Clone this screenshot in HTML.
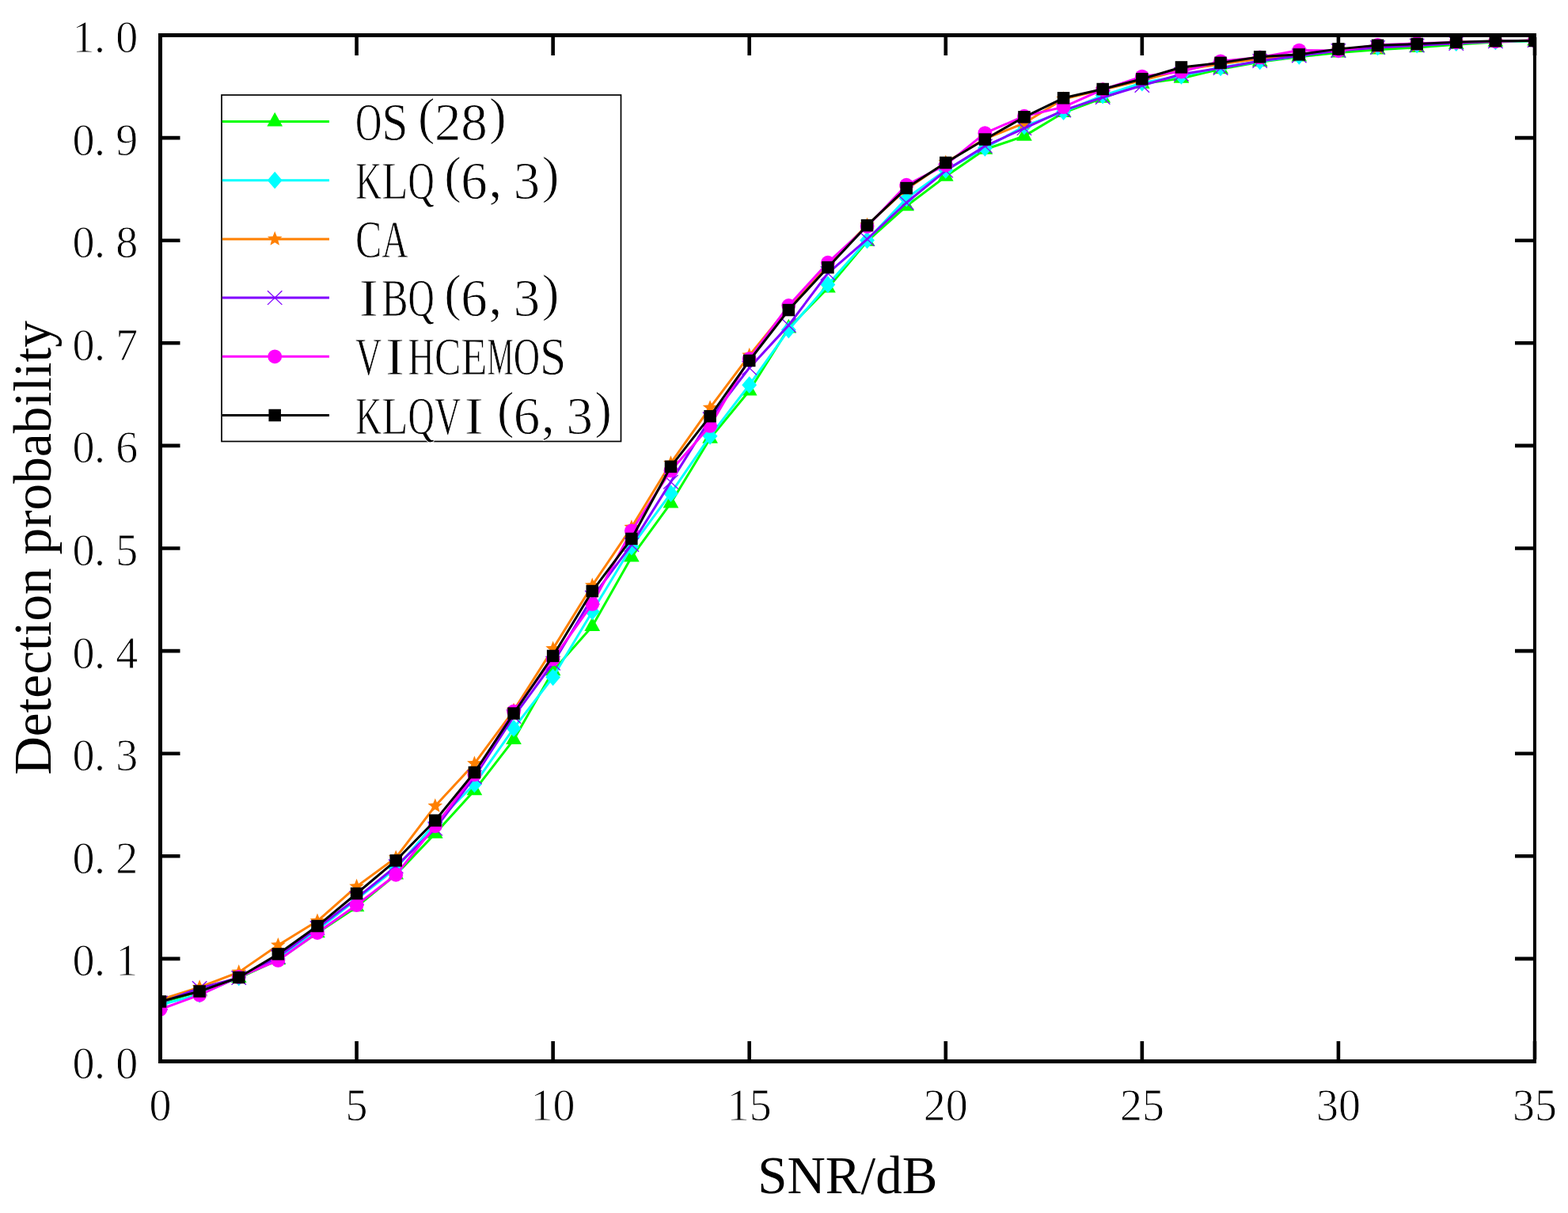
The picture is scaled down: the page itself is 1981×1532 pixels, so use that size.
<!DOCTYPE html><html><head><meta charset="utf-8"><title>Detection probability vs SNR</title><style>html,body{margin:0;padding:0;background:#fff;overflow:hidden}svg{display:block}text{font-family:"Liberation Serif","Times New Roman",serif;fill:#000;stroke:#fff;stroke-width:0.9px}</style></head><body>
<svg width="1981" height="1532" viewBox="0 0 1981 1532">
<rect width="1981" height="1532" fill="#fff"/>
<defs><clipPath id="pa"><rect x="205" y="47" width="1732" height="1291"/></clipPath></defs>
<g clip-path="url(#pa)">
<polyline points="202.50,1266.63 252.11,1252.37 301.73,1235.14 351.34,1212.46 400.96,1178.24 450.57,1145.45 500.19,1104.63 549.80,1052.79 599.41,998.36 649.03,934.20 698.64,847.37 748.26,791.00 797.87,703.52 847.49,635.48 897.10,553.83 946.71,493.56 996.33,414.51 1045.94,363.70 1095.56,304.74 1145.17,260.28 1194.79,222.83 1244.40,188.74 1294.01,171.90 1343.63,142.22 1393.24,123.94 1442.86,105.80 1492.47,98.93 1542.09,87.27 1591.70,78.20 1641.31,71.72 1690.93,66.53 1740.54,62.64 1790.16,60.05 1839.77,56.16 1889.39,52.92 1939.00,51.63" fill="none" stroke="#00ff00" stroke-width="3" stroke-linejoin="round"/>
<path d="M202.50 1254.83L212.35 1272.53L192.65 1272.53Z" fill="#00ff00"/><path d="M252.11 1240.57L261.96 1258.27L242.26 1258.27Z" fill="#00ff00"/><path d="M301.73 1223.34L311.58 1241.04L291.88 1241.04Z" fill="#00ff00"/><path d="M351.34 1200.66L361.19 1218.36L341.49 1218.36Z" fill="#00ff00"/><path d="M400.96 1166.44L410.81 1184.14L391.11 1184.14Z" fill="#00ff00"/><path d="M450.57 1133.65L460.42 1151.35L440.72 1151.35Z" fill="#00ff00"/><path d="M500.19 1092.83L510.04 1110.53L490.34 1110.53Z" fill="#00ff00"/><path d="M549.80 1040.99L559.65 1058.69L539.95 1058.69Z" fill="#00ff00"/><path d="M599.41 986.56L609.26 1004.26L589.56 1004.26Z" fill="#00ff00"/><path d="M649.03 922.40L658.88 940.10L639.18 940.10Z" fill="#00ff00"/><path d="M698.64 835.57L708.49 853.27L688.79 853.27Z" fill="#00ff00"/><path d="M748.26 779.20L758.11 796.90L738.41 796.90Z" fill="#00ff00"/><path d="M797.87 691.72L807.72 709.42L788.02 709.42Z" fill="#00ff00"/><path d="M847.49 623.68L857.34 641.38L837.64 641.38Z" fill="#00ff00"/><path d="M897.10 542.03L906.95 559.73L887.25 559.73Z" fill="#00ff00"/><path d="M946.71 481.76L956.56 499.46L936.86 499.46Z" fill="#00ff00"/><path d="M996.33 402.71L1006.18 420.41L986.48 420.41Z" fill="#00ff00"/><path d="M1045.94 351.90L1055.79 369.60L1036.09 369.60Z" fill="#00ff00"/><path d="M1095.56 292.94L1105.41 310.64L1085.71 310.64Z" fill="#00ff00"/><path d="M1145.17 248.48L1155.02 266.18L1135.32 266.18Z" fill="#00ff00"/><path d="M1194.79 211.03L1204.64 228.73L1184.94 228.73Z" fill="#00ff00"/><path d="M1244.40 176.94L1254.25 194.64L1234.55 194.64Z" fill="#00ff00"/><path d="M1294.01 160.10L1303.86 177.80L1284.16 177.80Z" fill="#00ff00"/><path d="M1343.63 130.42L1353.48 148.12L1333.78 148.12Z" fill="#00ff00"/><path d="M1393.24 112.14L1403.09 129.84L1383.39 129.84Z" fill="#00ff00"/><path d="M1442.86 94.00L1452.71 111.70L1433.01 111.70Z" fill="#00ff00"/><path d="M1492.47 87.13L1502.32 104.83L1482.62 104.83Z" fill="#00ff00"/><path d="M1542.09 75.47L1551.94 93.17L1532.24 93.17Z" fill="#00ff00"/><path d="M1591.70 66.40L1601.55 84.10L1581.85 84.10Z" fill="#00ff00"/><path d="M1641.31 59.92L1651.16 77.62L1631.46 77.62Z" fill="#00ff00"/><path d="M1690.93 54.73L1700.78 72.43L1681.08 72.43Z" fill="#00ff00"/><path d="M1740.54 50.84L1750.39 68.54L1730.69 68.54Z" fill="#00ff00"/><path d="M1790.16 48.25L1800.01 65.95L1780.31 65.95Z" fill="#00ff00"/><path d="M1839.77 44.36L1849.62 62.06L1829.92 62.06Z" fill="#00ff00"/><path d="M1889.39 41.12L1899.24 58.82L1879.54 58.82Z" fill="#00ff00"/><path d="M1939.00 39.83L1948.85 57.53L1929.15 57.53Z" fill="#00ff00"/>
<polyline points="202.50,1269.22 252.11,1256.00 301.73,1234.49 351.34,1210.90 400.96,1174.61 450.57,1135.73 500.19,1096.85 549.80,1039.83 599.41,990.45 649.03,919.95 698.64,855.28 748.26,772.46 797.87,690.56 847.49,623.16 897.10,550.85 946.71,486.18 996.33,416.58 1045.94,359.43 1095.56,303.44 1145.17,250.56 1194.79,214.92 1244.40,186.93 1294.01,159.46 1343.63,141.05 1393.24,120.58 1442.86,104.76 1492.47,95.82 1542.09,85.32 1591.70,77.42 1641.31,70.81 1690.93,62.64 1740.54,59.40 1790.16,56.55 1839.77,54.22 1889.39,52.28 1939.00,51.63" fill="none" stroke="#00ffff" stroke-width="3" stroke-linejoin="round"/>
<path d="M202.50 1258.37L211.90 1269.22L202.50 1280.07L193.10 1269.22Z" fill="#00ffff"/><path d="M252.11 1245.15L261.51 1256.00L252.11 1266.85L242.71 1256.00Z" fill="#00ffff"/><path d="M301.73 1223.64L311.13 1234.49L301.73 1245.34L292.33 1234.49Z" fill="#00ffff"/><path d="M351.34 1200.05L360.74 1210.90L351.34 1221.75L341.94 1210.90Z" fill="#00ffff"/><path d="M400.96 1163.76L410.36 1174.61L400.96 1185.46L391.56 1174.61Z" fill="#00ffff"/><path d="M450.57 1124.88L459.97 1135.73L450.57 1146.58L441.17 1135.73Z" fill="#00ffff"/><path d="M500.19 1086.00L509.59 1096.85L500.19 1107.70L490.79 1096.85Z" fill="#00ffff"/><path d="M549.80 1028.98L559.20 1039.83L549.80 1050.68L540.40 1039.83Z" fill="#00ffff"/><path d="M599.41 979.60L608.81 990.45L599.41 1001.30L590.01 990.45Z" fill="#00ffff"/><path d="M649.03 909.10L658.43 919.95L649.03 930.80L639.63 919.95Z" fill="#00ffff"/><path d="M698.64 844.43L708.04 855.28L698.64 866.13L689.24 855.28Z" fill="#00ffff"/><path d="M748.26 761.61L757.66 772.46L748.26 783.31L738.86 772.46Z" fill="#00ffff"/><path d="M797.87 679.71L807.27 690.56L797.87 701.41L788.47 690.56Z" fill="#00ffff"/><path d="M847.49 612.31L856.89 623.16L847.49 634.01L838.09 623.16Z" fill="#00ffff"/><path d="M897.10 540.00L906.50 550.85L897.10 561.70L887.70 550.85Z" fill="#00ffff"/><path d="M946.71 475.33L956.11 486.18L946.71 497.03L937.31 486.18Z" fill="#00ffff"/><path d="M996.33 405.73L1005.73 416.58L996.33 427.43L986.93 416.58Z" fill="#00ffff"/><path d="M1045.94 348.58L1055.34 359.43L1045.94 370.28L1036.54 359.43Z" fill="#00ffff"/><path d="M1095.56 292.59L1104.96 303.44L1095.56 314.29L1086.16 303.44Z" fill="#00ffff"/><path d="M1145.17 239.71L1154.57 250.56L1145.17 261.41L1135.77 250.56Z" fill="#00ffff"/><path d="M1194.79 204.07L1204.19 214.92L1194.79 225.77L1185.39 214.92Z" fill="#00ffff"/><path d="M1244.40 176.08L1253.80 186.93L1244.40 197.78L1235.00 186.93Z" fill="#00ffff"/><path d="M1294.01 148.61L1303.41 159.46L1294.01 170.31L1284.61 159.46Z" fill="#00ffff"/><path d="M1343.63 130.20L1353.03 141.05L1343.63 151.90L1334.23 141.05Z" fill="#00ffff"/><path d="M1393.24 109.73L1402.64 120.58L1393.24 131.43L1383.84 120.58Z" fill="#00ffff"/><path d="M1442.86 93.91L1452.26 104.76L1442.86 115.61L1433.46 104.76Z" fill="#00ffff"/><path d="M1492.47 84.97L1501.87 95.82L1492.47 106.67L1483.07 95.82Z" fill="#00ffff"/><path d="M1542.09 74.47L1551.49 85.32L1542.09 96.17L1532.69 85.32Z" fill="#00ffff"/><path d="M1591.70 66.57L1601.10 77.42L1591.70 88.27L1582.30 77.42Z" fill="#00ffff"/><path d="M1641.31 59.96L1650.71 70.81L1641.31 81.66L1631.91 70.81Z" fill="#00ffff"/><path d="M1690.93 51.79L1700.33 62.64L1690.93 73.49L1681.53 62.64Z" fill="#00ffff"/><path d="M1740.54 48.55L1749.94 59.40L1740.54 70.25L1731.14 59.40Z" fill="#00ffff"/><path d="M1790.16 45.70L1799.56 56.55L1790.16 67.40L1780.76 56.55Z" fill="#00ffff"/><path d="M1839.77 43.37L1849.17 54.22L1839.77 65.07L1830.37 54.22Z" fill="#00ffff"/><path d="M1889.39 41.43L1898.79 52.28L1889.39 63.13L1879.99 52.28Z" fill="#00ffff"/><path d="M1939.00 40.78L1948.40 51.63L1939.00 62.48L1929.60 51.63Z" fill="#00ffff"/>
<polyline points="202.50,1262.74 252.11,1246.93 301.73,1227.88 351.34,1193.79 400.96,1163.34 450.57,1119.66 500.19,1083.24 549.80,1017.93 599.41,964.40 649.03,897.27 698.64,819.38 748.26,739.42 797.87,666.06 847.49,584.93 897.10,514.95 946.71,448.85 996.33,387.94 1045.94,334.80 1095.56,284.26 1145.17,238.90 1194.79,205.20 1244.40,175.40 1294.01,155.57 1343.63,124.98 1393.24,113.19 1442.86,101.52 1492.47,88.56 1542.09,80.79 1591.70,74.31 1641.31,69.12 1690.93,62.64 1740.54,60.05 1790.16,57.46 1839.77,53.57 1889.39,52.28 1939.00,50.98" fill="none" stroke="#ff8000" stroke-width="3" stroke-linejoin="round"/>
<path d="M202.50 1252.94L205.03 1259.26L211.82 1259.71L206.59 1264.07L208.26 1270.67L202.50 1267.04L196.74 1270.67L198.41 1264.07L193.18 1259.71L199.97 1259.26Z" fill="#ff8000"/><path d="M252.11 1237.13L254.64 1243.45L261.43 1243.90L256.20 1248.26L257.87 1254.86L252.11 1251.23L246.35 1254.86L248.02 1248.26L242.79 1243.90L249.59 1243.45Z" fill="#ff8000"/><path d="M301.73 1218.08L304.26 1224.40L311.05 1224.85L305.82 1229.21L307.49 1235.81L301.73 1232.18L295.97 1235.81L297.64 1229.21L292.41 1224.85L299.20 1224.40Z" fill="#ff8000"/><path d="M351.34 1183.99L353.87 1190.31L360.66 1190.76L355.43 1195.12L357.10 1201.72L351.34 1198.09L345.58 1201.72L347.25 1195.12L342.02 1190.76L348.82 1190.31Z" fill="#ff8000"/><path d="M400.96 1153.54L403.48 1159.86L410.28 1160.31L405.05 1164.67L406.72 1171.27L400.96 1167.64L395.20 1171.27L396.87 1164.67L391.64 1160.31L398.43 1159.86Z" fill="#ff8000"/><path d="M450.57 1109.86L453.10 1116.18L459.89 1116.63L454.66 1120.99L456.33 1127.59L450.57 1123.96L444.81 1127.59L446.48 1120.99L441.25 1116.63L448.04 1116.18Z" fill="#ff8000"/><path d="M500.19 1073.44L502.71 1079.77L509.51 1080.22L504.28 1084.57L505.95 1091.17L500.19 1087.54L494.43 1091.17L496.10 1084.57L490.87 1080.22L497.66 1079.77Z" fill="#ff8000"/><path d="M549.80 1008.13L552.33 1014.45L559.12 1014.90L553.89 1019.25L555.56 1025.85L549.80 1022.23L544.04 1025.85L545.71 1019.25L540.48 1014.90L547.27 1014.45Z" fill="#ff8000"/><path d="M599.41 954.60L601.94 960.92L608.73 961.37L603.50 965.73L605.17 972.33L599.41 968.70L593.65 972.33L595.32 965.73L590.09 961.37L596.89 960.92Z" fill="#ff8000"/><path d="M649.03 887.47L651.56 893.79L658.35 894.24L653.12 898.60L654.79 905.20L649.03 901.57L643.27 905.20L644.94 898.60L639.71 894.24L646.50 893.79Z" fill="#ff8000"/><path d="M698.64 809.58L701.17 815.90L707.96 816.35L702.73 820.71L704.40 827.31L698.64 823.68L692.88 827.31L694.55 820.71L689.32 816.35L696.12 815.90Z" fill="#ff8000"/><path d="M748.26 729.62L750.78 735.94L757.58 736.39L752.35 740.74L754.02 747.34L748.26 743.72L742.50 747.34L744.17 740.74L738.94 736.39L745.73 735.94Z" fill="#ff8000"/><path d="M797.87 656.26L800.40 662.58L807.19 663.03L801.96 667.39L803.63 673.99L797.87 670.36L792.11 673.99L793.78 667.39L788.55 663.03L795.34 662.58Z" fill="#ff8000"/><path d="M847.49 575.13L850.01 581.45L856.81 581.90L851.58 586.26L853.25 592.86L847.49 589.23L841.73 592.86L843.40 586.26L838.17 581.90L844.96 581.45Z" fill="#ff8000"/><path d="M897.10 505.15L899.63 511.47L906.42 511.92L901.19 516.28L902.86 522.88L897.10 519.25L891.34 522.88L893.01 516.28L887.78 511.92L894.57 511.47Z" fill="#ff8000"/><path d="M946.71 439.05L949.24 445.37L956.03 445.82L950.80 450.18L952.47 456.78L946.71 453.15L940.95 456.78L942.62 450.18L937.39 445.82L944.19 445.37Z" fill="#ff8000"/><path d="M996.33 378.14L998.86 384.46L1005.65 384.91L1000.42 389.27L1002.09 395.87L996.33 392.24L990.57 395.87L992.24 389.27L987.01 384.91L993.80 384.46Z" fill="#ff8000"/><path d="M1045.94 325.00L1048.47 331.33L1055.26 331.78L1050.03 336.13L1051.70 342.73L1045.94 339.10L1040.18 342.73L1041.85 336.13L1036.62 331.78L1043.42 331.33Z" fill="#ff8000"/><path d="M1095.56 274.46L1098.08 280.78L1104.88 281.23L1099.65 285.59L1101.32 292.19L1095.56 288.56L1089.80 292.19L1091.47 285.59L1086.24 281.23L1093.03 280.78Z" fill="#ff8000"/><path d="M1145.17 229.10L1147.70 235.42L1154.49 235.87L1149.26 240.23L1150.93 246.83L1145.17 243.20L1139.41 246.83L1141.08 240.23L1135.85 235.87L1142.64 235.42Z" fill="#ff8000"/><path d="M1194.79 195.40L1197.31 201.73L1204.11 202.18L1198.88 206.53L1200.55 213.13L1194.79 209.50L1189.03 213.13L1190.70 206.53L1185.47 202.18L1192.26 201.73Z" fill="#ff8000"/><path d="M1244.40 165.60L1246.93 171.92L1253.72 172.37L1248.49 176.72L1250.16 183.32L1244.40 179.70L1238.64 183.32L1240.31 176.72L1235.08 172.37L1241.87 171.92Z" fill="#ff8000"/><path d="M1294.01 145.77L1296.54 152.09L1303.33 152.54L1298.10 156.90L1299.77 163.50L1294.01 159.87L1288.25 163.50L1289.92 156.90L1284.69 152.54L1291.49 152.09Z" fill="#ff8000"/><path d="M1343.63 115.18L1346.16 121.50L1352.95 121.95L1347.72 126.31L1349.39 132.91L1343.63 129.28L1337.87 132.91L1339.54 126.31L1334.31 121.95L1341.10 121.50Z" fill="#ff8000"/><path d="M1393.24 103.39L1395.77 109.71L1402.56 110.16L1397.33 114.52L1399.00 121.12L1393.24 117.49L1387.48 121.12L1389.15 114.52L1383.92 110.16L1390.72 109.71Z" fill="#ff8000"/><path d="M1442.86 91.72L1445.38 98.05L1452.18 98.50L1446.95 102.85L1448.62 109.45L1442.86 105.82L1437.10 109.45L1438.77 102.85L1433.54 98.50L1440.33 98.05Z" fill="#ff8000"/><path d="M1492.47 78.76L1495.00 85.09L1501.79 85.54L1496.56 89.89L1498.23 96.49L1492.47 92.86L1486.71 96.49L1488.38 89.89L1483.15 85.54L1489.94 85.09Z" fill="#ff8000"/><path d="M1542.09 70.99L1544.61 77.31L1551.41 77.76L1546.18 82.12L1547.85 88.72L1542.09 85.09L1536.33 88.72L1538.00 82.12L1532.77 77.76L1539.56 77.31Z" fill="#ff8000"/><path d="M1591.70 64.51L1594.23 70.83L1601.02 71.28L1595.79 75.64L1597.46 82.24L1591.70 78.61L1585.94 82.24L1587.61 75.64L1582.38 71.28L1589.17 70.83Z" fill="#ff8000"/><path d="M1641.31 59.32L1643.84 65.65L1650.63 66.10L1645.40 70.45L1647.07 77.05L1641.31 73.42L1635.55 77.05L1637.22 70.45L1631.99 66.10L1638.79 65.65Z" fill="#ff8000"/><path d="M1690.93 52.84L1693.46 59.17L1700.25 59.62L1695.02 63.97L1696.69 70.57L1690.93 66.94L1685.17 70.57L1686.84 63.97L1681.61 59.62L1688.40 59.17Z" fill="#ff8000"/><path d="M1740.54 50.25L1743.07 56.57L1749.86 57.02L1744.63 61.38L1746.30 67.98L1740.54 64.35L1734.78 67.98L1736.45 61.38L1731.22 57.02L1738.02 56.57Z" fill="#ff8000"/><path d="M1790.16 47.66L1792.68 53.98L1799.48 54.43L1794.25 58.79L1795.92 65.39L1790.16 61.76L1784.40 65.39L1786.07 58.79L1780.84 54.43L1787.63 53.98Z" fill="#ff8000"/><path d="M1839.77 43.77L1842.30 50.09L1849.09 50.54L1843.86 54.90L1845.53 61.50L1839.77 57.87L1834.01 61.50L1835.68 54.90L1830.45 50.54L1837.24 50.09Z" fill="#ff8000"/><path d="M1889.39 42.48L1891.91 48.80L1898.71 49.25L1893.48 53.60L1895.15 60.20L1889.39 56.58L1883.63 60.20L1885.30 53.60L1880.07 49.25L1886.86 48.80Z" fill="#ff8000"/><path d="M1939.00 41.18L1941.53 47.50L1948.32 47.95L1943.09 52.31L1944.76 58.91L1939.00 55.28L1933.24 58.91L1934.91 52.31L1929.68 47.95L1936.47 47.50Z" fill="#ff8000"/>
<polyline points="202.50,1266.63 252.11,1247.97 301.73,1235.01 351.34,1208.31 400.96,1172.02 450.57,1134.44 500.19,1094.26 549.80,1046.57 599.41,981.51 649.03,905.04 698.64,837.65 748.26,754.71 797.87,687.96 847.49,608.65 897.10,529.33 946.71,464.66 996.33,410.88 1045.94,345.17 1095.56,302.02 1145.17,256.01 1194.79,215.57 1244.40,184.60 1294.01,162.05 1343.63,139.37 1393.24,123.04 1442.86,108.00 1492.47,93.75 1542.09,85.97 1591.70,76.90 1641.31,70.42 1690.93,63.94 1740.54,60.05 1790.16,57.46 1839.77,54.87 1889.39,52.28 1939.00,50.98" fill="none" stroke="#8000ff" stroke-width="3" stroke-linejoin="round"/>
<path d="M193.30 1257.83L211.70 1275.43M211.70 1257.83L193.30 1275.43" stroke="#8000ff" stroke-width="1.3" fill="none"/><path d="M242.91 1239.17L261.31 1256.77M261.31 1239.17L242.91 1256.77" stroke="#8000ff" stroke-width="1.3" fill="none"/><path d="M292.53 1226.21L310.93 1243.81M310.93 1226.21L292.53 1243.81" stroke="#8000ff" stroke-width="1.3" fill="none"/><path d="M342.14 1199.51L360.54 1217.11M360.54 1199.51L342.14 1217.11" stroke="#8000ff" stroke-width="1.3" fill="none"/><path d="M391.76 1163.22L410.16 1180.82M410.16 1163.22L391.76 1180.82" stroke="#8000ff" stroke-width="1.3" fill="none"/><path d="M441.37 1125.64L459.77 1143.24M459.77 1125.64L441.37 1143.24" stroke="#8000ff" stroke-width="1.3" fill="none"/><path d="M490.99 1085.46L509.39 1103.06M509.39 1085.46L490.99 1103.06" stroke="#8000ff" stroke-width="1.3" fill="none"/><path d="M540.60 1037.77L559.00 1055.37M559.00 1037.77L540.60 1055.37" stroke="#8000ff" stroke-width="1.3" fill="none"/><path d="M590.21 972.71L608.61 990.31M608.61 972.71L590.21 990.31" stroke="#8000ff" stroke-width="1.3" fill="none"/><path d="M639.83 896.24L658.23 913.84M658.23 896.24L639.83 913.84" stroke="#8000ff" stroke-width="1.3" fill="none"/><path d="M689.44 828.85L707.84 846.45M707.84 828.85L689.44 846.45" stroke="#8000ff" stroke-width="1.3" fill="none"/><path d="M739.06 745.91L757.46 763.51M757.46 745.91L739.06 763.51" stroke="#8000ff" stroke-width="1.3" fill="none"/><path d="M788.67 679.16L807.07 696.76M807.07 679.16L788.67 696.76" stroke="#8000ff" stroke-width="1.3" fill="none"/><path d="M838.29 599.85L856.69 617.45M856.69 599.85L838.29 617.45" stroke="#8000ff" stroke-width="1.3" fill="none"/><path d="M887.90 520.53L906.30 538.13M906.30 520.53L887.90 538.13" stroke="#8000ff" stroke-width="1.3" fill="none"/><path d="M937.51 455.86L955.91 473.46M955.91 455.86L937.51 473.46" stroke="#8000ff" stroke-width="1.3" fill="none"/><path d="M987.13 402.08L1005.53 419.68M1005.53 402.08L987.13 419.68" stroke="#8000ff" stroke-width="1.3" fill="none"/><path d="M1036.74 336.37L1055.14 353.97M1055.14 336.37L1036.74 353.97" stroke="#8000ff" stroke-width="1.3" fill="none"/><path d="M1086.36 293.22L1104.76 310.82M1104.76 293.22L1086.36 310.82" stroke="#8000ff" stroke-width="1.3" fill="none"/><path d="M1135.97 247.21L1154.37 264.81M1154.37 247.21L1135.97 264.81" stroke="#8000ff" stroke-width="1.3" fill="none"/><path d="M1185.59 206.77L1203.99 224.37M1203.99 206.77L1185.59 224.37" stroke="#8000ff" stroke-width="1.3" fill="none"/><path d="M1235.20 175.80L1253.60 193.40M1253.60 175.80L1235.20 193.40" stroke="#8000ff" stroke-width="1.3" fill="none"/><path d="M1284.81 153.25L1303.21 170.85M1303.21 153.25L1284.81 170.85" stroke="#8000ff" stroke-width="1.3" fill="none"/><path d="M1334.43 130.57L1352.83 148.17M1352.83 130.57L1334.43 148.17" stroke="#8000ff" stroke-width="1.3" fill="none"/><path d="M1384.04 114.24L1402.44 131.84M1402.44 114.24L1384.04 131.84" stroke="#8000ff" stroke-width="1.3" fill="none"/><path d="M1433.66 99.20L1452.06 116.80M1452.06 99.20L1433.66 116.80" stroke="#8000ff" stroke-width="1.3" fill="none"/><path d="M1483.27 84.95L1501.67 102.55M1501.67 84.95L1483.27 102.55" stroke="#8000ff" stroke-width="1.3" fill="none"/><path d="M1532.89 77.17L1551.29 94.77M1551.29 77.17L1532.89 94.77" stroke="#8000ff" stroke-width="1.3" fill="none"/><path d="M1582.50 68.10L1600.90 85.70M1600.90 68.10L1582.50 85.70" stroke="#8000ff" stroke-width="1.3" fill="none"/><path d="M1632.11 61.62L1650.51 79.22M1650.51 61.62L1632.11 79.22" stroke="#8000ff" stroke-width="1.3" fill="none"/><path d="M1681.73 55.14L1700.13 72.74M1700.13 55.14L1681.73 72.74" stroke="#8000ff" stroke-width="1.3" fill="none"/><path d="M1731.34 51.25L1749.74 68.85M1749.74 51.25L1731.34 68.85" stroke="#8000ff" stroke-width="1.3" fill="none"/><path d="M1780.96 48.66L1799.36 66.26M1799.36 48.66L1780.96 66.26" stroke="#8000ff" stroke-width="1.3" fill="none"/><path d="M1830.57 46.07L1848.97 63.67M1848.97 46.07L1830.57 63.67" stroke="#8000ff" stroke-width="1.3" fill="none"/><path d="M1880.19 43.48L1898.59 61.08M1898.59 43.48L1880.19 61.08" stroke="#8000ff" stroke-width="1.3" fill="none"/><path d="M1929.80 42.18L1948.20 59.78M1948.20 42.18L1929.80 59.78" stroke="#8000ff" stroke-width="1.3" fill="none"/>
<polyline points="202.50,1274.79 252.11,1256.65 301.73,1233.84 351.34,1212.97 400.96,1177.98 450.57,1142.99 500.19,1104.76 549.80,1043.33 599.41,978.27 649.03,898.43 698.64,832.47 748.26,762.87 797.87,670.47 847.49,594.39 897.10,537.89 946.71,453.26 996.33,386.00 1045.94,331.69 1095.56,286.07 1145.17,233.72 1194.79,208.44 1244.40,168.14 1294.01,146.75 1343.63,135.09 1393.24,113.06 1442.86,96.60 1492.47,90.51 1542.09,77.29 1591.70,72.49 1641.31,63.55 1690.93,64.07 1740.54,56.81 1790.16,54.87 1839.77,53.57 1889.39,52.28 1939.00,51.24" fill="none" stroke="#ff00ff" stroke-width="3" stroke-linejoin="round"/>
<circle cx="202.50" cy="1274.79" r="8.9" fill="#ff00ff"/><circle cx="252.11" cy="1256.65" r="8.9" fill="#ff00ff"/><circle cx="301.73" cy="1233.84" r="8.9" fill="#ff00ff"/><circle cx="351.34" cy="1212.97" r="8.9" fill="#ff00ff"/><circle cx="400.96" cy="1177.98" r="8.9" fill="#ff00ff"/><circle cx="450.57" cy="1142.99" r="8.9" fill="#ff00ff"/><circle cx="500.19" cy="1104.76" r="8.9" fill="#ff00ff"/><circle cx="549.80" cy="1043.33" r="8.9" fill="#ff00ff"/><circle cx="599.41" cy="978.27" r="8.9" fill="#ff00ff"/><circle cx="649.03" cy="898.43" r="8.9" fill="#ff00ff"/><circle cx="698.64" cy="832.47" r="8.9" fill="#ff00ff"/><circle cx="748.26" cy="762.87" r="8.9" fill="#ff00ff"/><circle cx="797.87" cy="670.47" r="8.9" fill="#ff00ff"/><circle cx="847.49" cy="594.39" r="8.9" fill="#ff00ff"/><circle cx="897.10" cy="537.89" r="8.9" fill="#ff00ff"/><circle cx="946.71" cy="453.26" r="8.9" fill="#ff00ff"/><circle cx="996.33" cy="386.00" r="8.9" fill="#ff00ff"/><circle cx="1045.94" cy="331.69" r="8.9" fill="#ff00ff"/><circle cx="1095.56" cy="286.07" r="8.9" fill="#ff00ff"/><circle cx="1145.17" cy="233.72" r="8.9" fill="#ff00ff"/><circle cx="1194.79" cy="208.44" r="8.9" fill="#ff00ff"/><circle cx="1244.40" cy="168.14" r="8.9" fill="#ff00ff"/><circle cx="1294.01" cy="146.75" r="8.9" fill="#ff00ff"/><circle cx="1343.63" cy="135.09" r="8.9" fill="#ff00ff"/><circle cx="1393.24" cy="113.06" r="8.9" fill="#ff00ff"/><circle cx="1442.86" cy="96.60" r="8.9" fill="#ff00ff"/><circle cx="1492.47" cy="90.51" r="8.9" fill="#ff00ff"/><circle cx="1542.09" cy="77.29" r="8.9" fill="#ff00ff"/><circle cx="1591.70" cy="72.49" r="8.9" fill="#ff00ff"/><circle cx="1641.31" cy="63.55" r="8.9" fill="#ff00ff"/><circle cx="1690.93" cy="64.07" r="8.9" fill="#ff00ff"/><circle cx="1740.54" cy="56.81" r="8.9" fill="#ff00ff"/><circle cx="1790.16" cy="54.87" r="8.9" fill="#ff00ff"/><circle cx="1839.77" cy="53.57" r="8.9" fill="#ff00ff"/><circle cx="1889.39" cy="52.28" r="8.9" fill="#ff00ff"/><circle cx="1939.00" cy="51.24" r="8.9" fill="#ff00ff"/>
<polyline points="202.50,1264.94 252.11,1251.98 301.73,1234.49 351.34,1204.94 400.96,1169.56 450.57,1128.47 500.19,1086.87 549.80,1036.20 599.41,975.55 649.03,901.03 698.64,828.45 748.26,746.54 797.87,680.45 847.49,589.34 897.10,525.70 946.71,455.46 996.33,391.57 1045.94,337.78 1095.56,284.65 1145.17,237.60 1194.79,205.46 1244.40,176.04 1294.01,147.79 1343.63,123.82 1393.24,112.54 1442.86,99.71 1492.47,84.94 1542.09,79.36 1591.70,71.85 1641.31,68.86 1690.93,61.87 1740.54,57.33 1790.16,55.52 1839.77,53.18 1889.39,51.76 1939.00,51.50" fill="none" stroke="#000000" stroke-width="3" stroke-linejoin="round"/>
<rect x="194.75" y="1257.19" width="15.5" height="15.5" fill="#000000"/><rect x="244.36" y="1244.23" width="15.5" height="15.5" fill="#000000"/><rect x="293.98" y="1226.74" width="15.5" height="15.5" fill="#000000"/><rect x="343.59" y="1197.19" width="15.5" height="15.5" fill="#000000"/><rect x="393.21" y="1161.81" width="15.5" height="15.5" fill="#000000"/><rect x="442.82" y="1120.72" width="15.5" height="15.5" fill="#000000"/><rect x="492.44" y="1079.12" width="15.5" height="15.5" fill="#000000"/><rect x="542.05" y="1028.45" width="15.5" height="15.5" fill="#000000"/><rect x="591.66" y="967.80" width="15.5" height="15.5" fill="#000000"/><rect x="641.28" y="893.28" width="15.5" height="15.5" fill="#000000"/><rect x="690.89" y="820.70" width="15.5" height="15.5" fill="#000000"/><rect x="740.51" y="738.79" width="15.5" height="15.5" fill="#000000"/><rect x="790.12" y="672.70" width="15.5" height="15.5" fill="#000000"/><rect x="839.74" y="581.59" width="15.5" height="15.5" fill="#000000"/><rect x="889.35" y="517.95" width="15.5" height="15.5" fill="#000000"/><rect x="938.96" y="447.71" width="15.5" height="15.5" fill="#000000"/><rect x="988.58" y="383.82" width="15.5" height="15.5" fill="#000000"/><rect x="1038.19" y="330.03" width="15.5" height="15.5" fill="#000000"/><rect x="1087.81" y="276.90" width="15.5" height="15.5" fill="#000000"/><rect x="1137.42" y="229.85" width="15.5" height="15.5" fill="#000000"/><rect x="1187.04" y="197.71" width="15.5" height="15.5" fill="#000000"/><rect x="1236.65" y="168.29" width="15.5" height="15.5" fill="#000000"/><rect x="1286.26" y="140.04" width="15.5" height="15.5" fill="#000000"/><rect x="1335.88" y="116.07" width="15.5" height="15.5" fill="#000000"/><rect x="1385.49" y="104.79" width="15.5" height="15.5" fill="#000000"/><rect x="1435.11" y="91.96" width="15.5" height="15.5" fill="#000000"/><rect x="1484.72" y="77.19" width="15.5" height="15.5" fill="#000000"/><rect x="1534.34" y="71.61" width="15.5" height="15.5" fill="#000000"/><rect x="1583.95" y="64.10" width="15.5" height="15.5" fill="#000000"/><rect x="1633.56" y="61.11" width="15.5" height="15.5" fill="#000000"/><rect x="1683.18" y="54.12" width="15.5" height="15.5" fill="#000000"/><rect x="1732.79" y="49.58" width="15.5" height="15.5" fill="#000000"/><rect x="1782.41" y="47.77" width="15.5" height="15.5" fill="#000000"/><rect x="1832.02" y="45.43" width="15.5" height="15.5" fill="#000000"/><rect x="1881.64" y="44.01" width="15.5" height="15.5" fill="#000000"/><rect x="1931.25" y="43.75" width="15.5" height="15.5" fill="#000000"/>
</g>
<path d="M200 42H1941V47H200ZM200 1338H1941V1343H200ZM200 42H205V1343H200ZM1937 42H1941V1343H1937Z" fill="#000"/>
<path d="M202.50 1338V1315M202.50 47V70M450.57 1338V1315M450.57 47V70M698.64 1338V1315M698.64 47V70M946.71 1338V1315M946.71 47V70M1194.79 1338V1315M1194.79 47V70M1442.86 1338V1315M1442.86 47V70M1690.93 1338V1315M1690.93 47V70M1939.00 1338V1315M1939.00 47V70M205 1340.50H227.5M1937 1340.50H1914M205 1210.90H227.5M1937 1210.90H1914M205 1081.30H227.5M1937 1081.30H1914M205 951.70H227.5M1937 951.70H1914M205 822.10H227.5M1937 822.10H1914M205 692.50H227.5M1937 692.50H1914M205 562.90H227.5M1937 562.90H1914M205 433.30H227.5M1937 433.30H1914M205 303.70H227.5M1937 303.70H1914M205 174.10H227.5M1937 174.10H1914M205 44.50H227.5M1937 44.50H1914" stroke="#000" stroke-width="4.6" fill="none"/>
<text font-size="56" x="105.5 126 160.2" y="1362.0" text-anchor="middle">0.0</text>
<text font-size="56" x="105.5 126 160.2" y="1232.4" text-anchor="middle">0.1</text>
<text font-size="56" x="105.5 126 160.2" y="1102.8" text-anchor="middle">0.2</text>
<text font-size="56" x="105.5 126 160.2" y="973.2" text-anchor="middle">0.3</text>
<text font-size="56" x="105.5 126 160.2" y="843.6" text-anchor="middle">0.4</text>
<text font-size="56" x="105.5 126 160.2" y="714.0" text-anchor="middle">0.5</text>
<text font-size="56" x="105.5 126 160.2" y="584.4" text-anchor="middle">0.6</text>
<text font-size="56" x="105.5 126 160.2" y="454.8" text-anchor="middle">0.7</text>
<text font-size="56" x="105.5 126 160.2" y="325.2" text-anchor="middle">0.8</text>
<text font-size="56" x="105.5 126 160.2" y="195.6" text-anchor="middle">0.9</text>
<text font-size="56" x="105.5 126 160.2" y="66.0" text-anchor="middle">1.0</text>
<text font-size="56" x="202.5" y="1415" text-anchor="middle">0</text>
<text font-size="56" x="450.6" y="1415" text-anchor="middle">5</text>
<text font-size="56" x="684.6 712.6" y="1415" text-anchor="middle">10</text>
<text font-size="56" x="932.7 960.7" y="1415" text-anchor="middle">15</text>
<text font-size="56" x="1180.8 1208.8" y="1415" text-anchor="middle">20</text>
<text font-size="56" x="1428.9 1456.9" y="1415" text-anchor="middle">25</text>
<text font-size="56" x="1676.9 1704.9" y="1415" text-anchor="middle">30</text>
<text font-size="56" x="1925.0 1953.0" y="1415" text-anchor="middle">35</text>
<text font-size="67" x="1070.8" y="1507.4" text-anchor="middle" style="stroke:none">SNR/dB</text>
<text font-size="67.3" transform="translate(63.5,692) rotate(-90)" x="0" y="0" text-anchor="middle" style="stroke:none">Detection probability</text>
<rect x="280" y="120" width="504.5" height="437.5" fill="#fff" stroke="#000" stroke-width="1.7"/>
<path d="M280.8 153.50H416" stroke="#00ff00" stroke-width="3"/>
<path d="M347.20 141.70L357.05 159.40L337.35 159.40Z" fill="#00ff00"/>
<text font-size="67" y="176.5"><tspan x="449.0" y="176.5" textLength="33.3" lengthAdjust="spacingAndGlyphs">O</tspan><tspan x="482.3" y="176.5" textLength="33.3" lengthAdjust="spacingAndGlyphs">S</tspan><tspan x="528.0" y="169.1" font-size="65">(</tspan><tspan x="548.9" y="176.5">2</tspan><tspan x="582.2" y="176.5">8</tspan><tspan x="618.1" y="169.1" font-size="65">)</tspan></text>
<path d="M280.8 227.70H416" stroke="#00ffff" stroke-width="3"/>
<path d="M347.20 216.85L356.60 227.70L347.20 238.55L337.80 227.70Z" fill="#00ffff"/>
<text font-size="67" y="250.7"><tspan x="449.0" y="250.7" textLength="33.3" lengthAdjust="spacingAndGlyphs">K</tspan><tspan x="482.3" y="250.7" textLength="33.3" lengthAdjust="spacingAndGlyphs">L</tspan><tspan x="515.6" y="250.7" textLength="33.3" lengthAdjust="spacingAndGlyphs">Q</tspan><tspan x="561.3" y="243.3" font-size="65">(</tspan><tspan x="582.2" y="250.7">6</tspan><tspan x="617.5" y="248.9">,</tspan><tspan x="648.8" y="250.7">3</tspan><tspan x="684.7" y="243.3" font-size="65">)</tspan></text>
<path d="M280.8 301.90H416" stroke="#ff8000" stroke-width="3"/>
<path d="M347.20 292.10L349.73 298.42L356.52 298.87L351.29 303.23L352.96 309.83L347.20 306.20L341.44 309.83L343.11 303.23L337.88 298.87L344.67 298.42Z" fill="#ff8000"/>
<text font-size="67" y="324.9"><tspan x="449.0" y="324.9" textLength="33.3" lengthAdjust="spacingAndGlyphs">C</tspan><tspan x="482.3" y="324.9" textLength="33.3" lengthAdjust="spacingAndGlyphs">A</tspan></text>
<path d="M280.8 376.10H416" stroke="#8000ff" stroke-width="3"/>
<path d="M338.00 367.30L356.40 384.90M356.40 367.30L338.00 384.90" stroke="#8000ff" stroke-width="1.3" fill="none"/>
<text font-size="67" y="399.1"><tspan x="453.4" y="399.1" textLength="24.5" lengthAdjust="spacingAndGlyphs">I</tspan><tspan x="482.3" y="399.1" textLength="33.3" lengthAdjust="spacingAndGlyphs">B</tspan><tspan x="515.6" y="399.1" textLength="33.3" lengthAdjust="spacingAndGlyphs">Q</tspan><tspan x="561.3" y="391.7" font-size="65">(</tspan><tspan x="582.2" y="399.1">6</tspan><tspan x="617.5" y="397.3">,</tspan><tspan x="648.8" y="399.1">3</tspan><tspan x="684.7" y="391.7" font-size="65">)</tspan></text>
<path d="M280.8 450.30H416" stroke="#ff00ff" stroke-width="3"/>
<circle cx="347.20" cy="450.30" r="8.9" fill="#ff00ff"/>
<text font-size="67" y="473.3"><tspan x="449.0" y="473.3" textLength="33.3" lengthAdjust="spacingAndGlyphs">V</tspan><tspan x="486.7" y="473.3" textLength="24.5" lengthAdjust="spacingAndGlyphs">I</tspan><tspan x="515.6" y="473.3" textLength="33.3" lengthAdjust="spacingAndGlyphs">H</tspan><tspan x="548.9" y="473.3" textLength="33.3" lengthAdjust="spacingAndGlyphs">C</tspan><tspan x="582.2" y="473.3" textLength="33.3" lengthAdjust="spacingAndGlyphs">E</tspan><tspan x="615.5" y="473.3" textLength="33.3" lengthAdjust="spacingAndGlyphs">M</tspan><tspan x="648.8" y="473.3" textLength="33.3" lengthAdjust="spacingAndGlyphs">O</tspan><tspan x="682.1" y="473.3" textLength="33.3" lengthAdjust="spacingAndGlyphs">S</tspan></text>
<path d="M280.8 524.50H416" stroke="#000000" stroke-width="3"/>
<rect x="339.45" y="516.75" width="15.5" height="15.5" fill="#000000"/>
<text font-size="67" y="547.5"><tspan x="449.0" y="547.5" textLength="33.3" lengthAdjust="spacingAndGlyphs">K</tspan><tspan x="482.3" y="547.5" textLength="33.3" lengthAdjust="spacingAndGlyphs">L</tspan><tspan x="515.6" y="547.5" textLength="33.3" lengthAdjust="spacingAndGlyphs">Q</tspan><tspan x="548.9" y="547.5" textLength="33.3" lengthAdjust="spacingAndGlyphs">V</tspan><tspan x="586.6" y="547.5" textLength="24.5" lengthAdjust="spacingAndGlyphs">I</tspan><tspan x="627.9" y="540.1" font-size="65">(</tspan><tspan x="648.8" y="547.5">6</tspan><tspan x="684.1" y="545.7">,</tspan><tspan x="715.4" y="547.5">3</tspan><tspan x="751.3" y="540.1" font-size="65">)</tspan></text>
</svg></body></html>
